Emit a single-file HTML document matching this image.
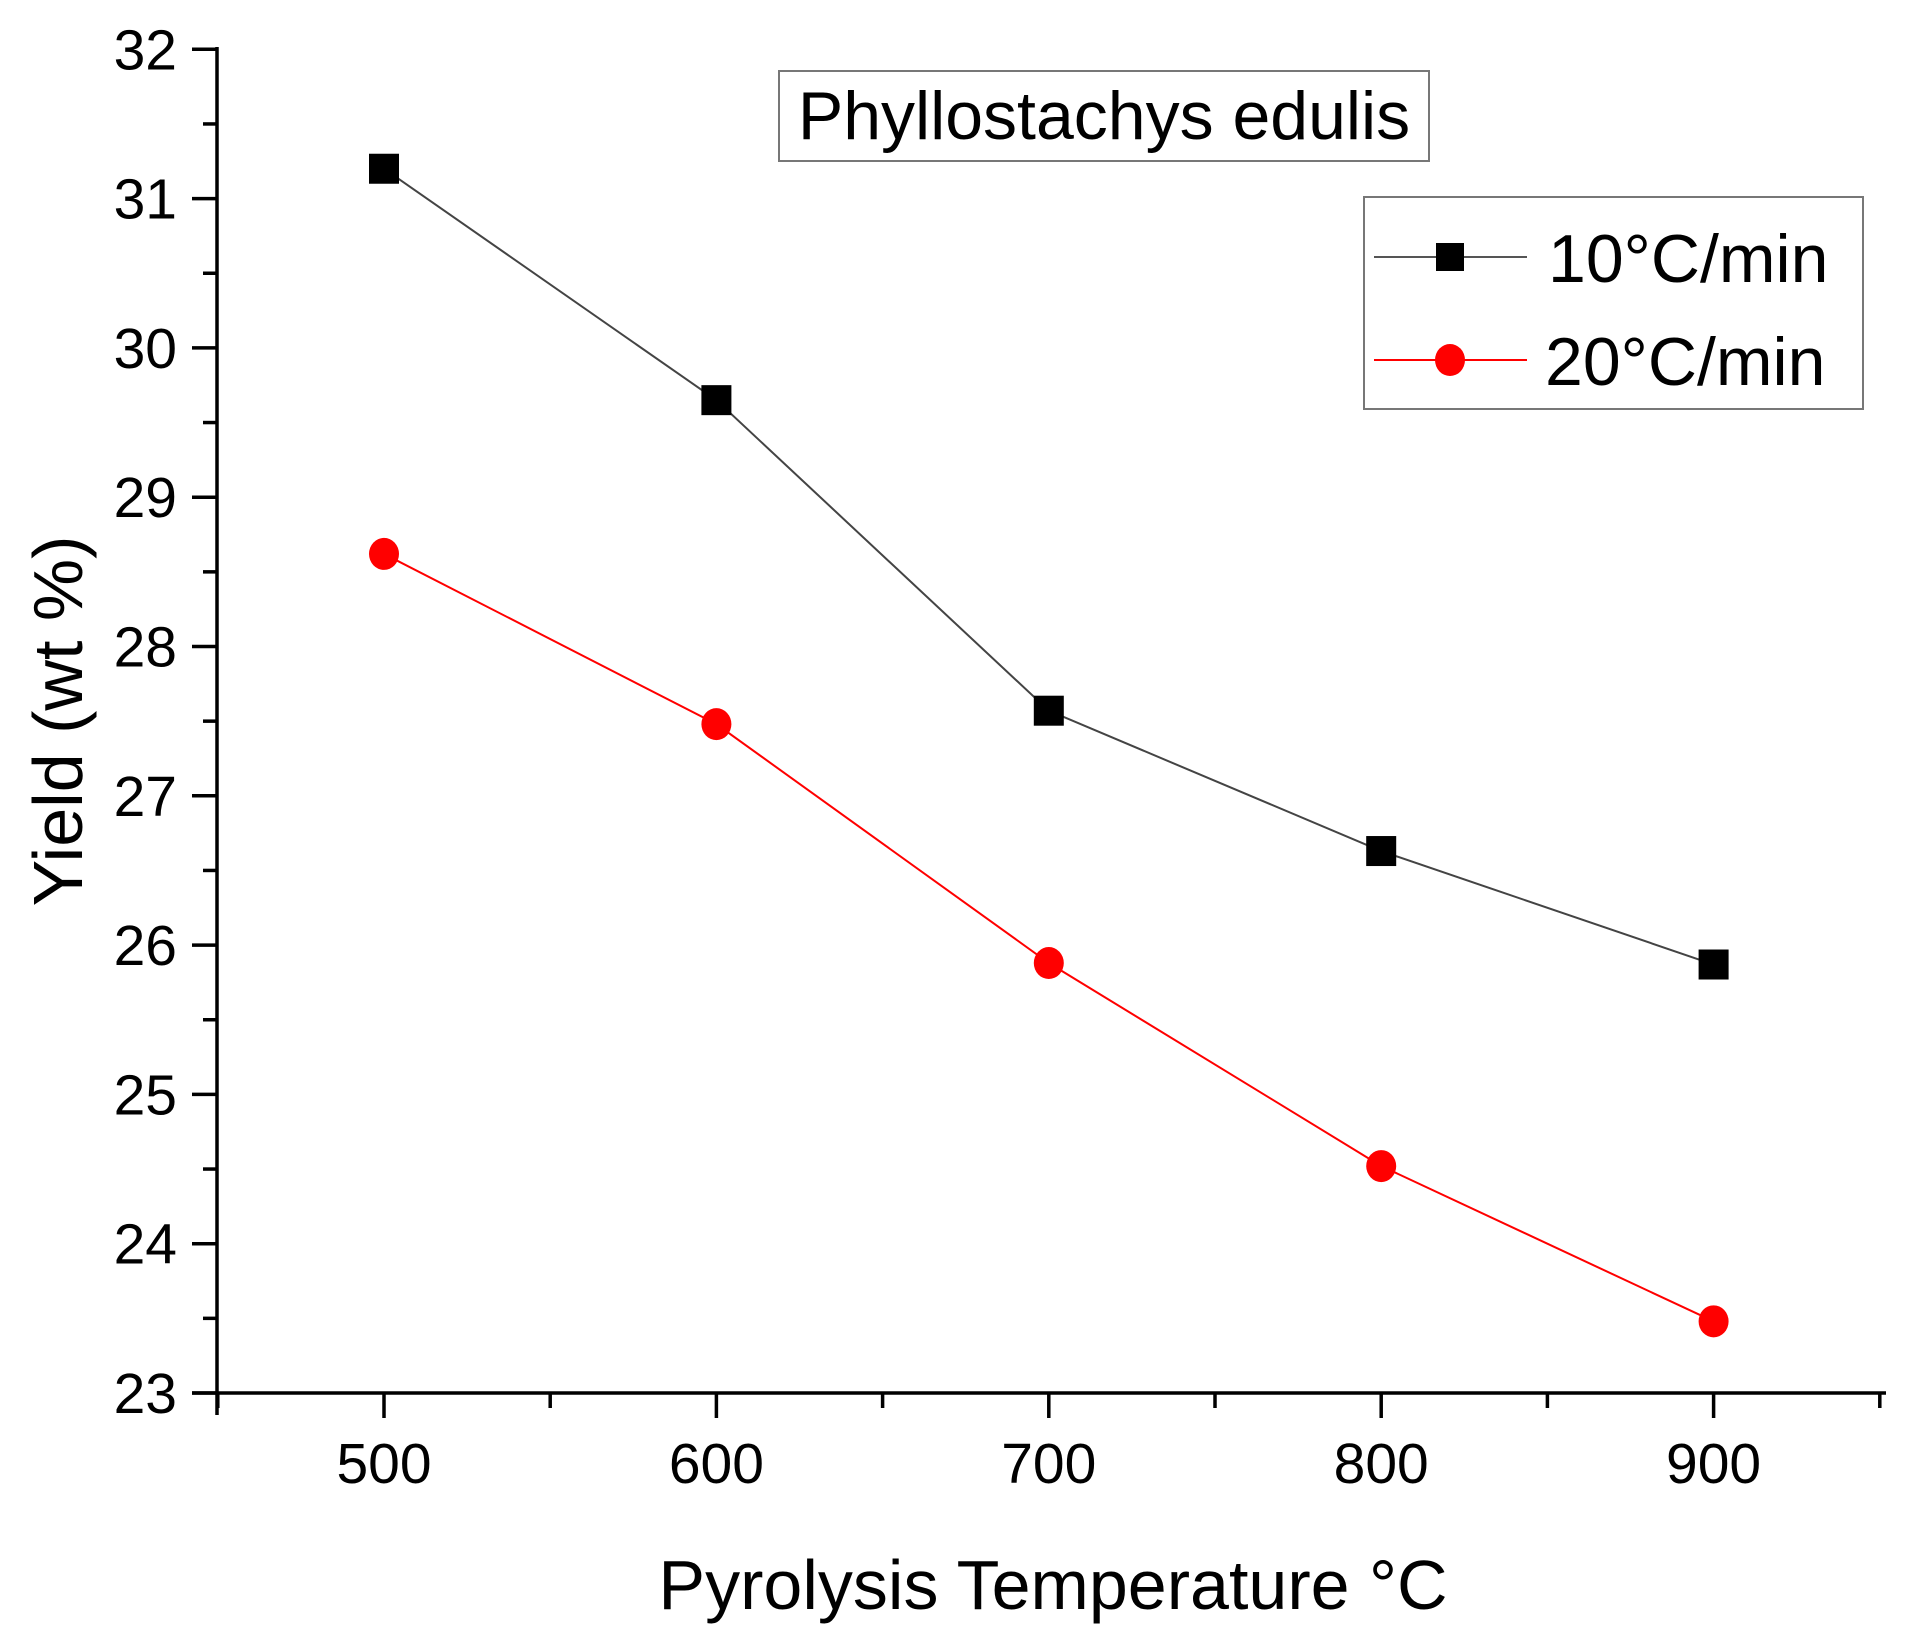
<!DOCTYPE html>
<html><head><meta charset="utf-8"><style>
html,body{margin:0;padding:0;background:#fff;}
svg{display:block;font-family:"Liberation Sans",Arial,sans-serif;}
</style></head><body>
<svg id="chart" width="1906" height="1637" viewBox="0 0 1906 1637">
<g id="axes"></g>
<g id="series"></g>
<g>
<rect x="779" y="71" width="650" height="90" fill="#fff" stroke="#777" stroke-width="2"/>
<text x="1104" y="139" font-size="68" text-anchor="middle" fill="#000">Phyllostachys edulis</text>
</g>
<g>
<rect x="1364" y="197" width="499" height="212" fill="#fff" stroke="#777" stroke-width="2"/>
<g>
<line x1="1374" y1="257" x2="1527" y2="257" stroke="#555" stroke-width="2"/>
<rect x="1436" y="243" width="28" height="28" fill="#000"/>
<text x="1548" y="282" font-size="68" fill="#000">10°C/min</text>
</g>
<g>
<line x1="1374" y1="360" x2="1527" y2="360" stroke="#f00" stroke-width="2"/>
<ellipse cx="1450" cy="360" rx="15" ry="16" fill="#f00"/>
<text x="1545" y="385" font-size="68" fill="#000">20°C/min</text>
</g>
</g>
<text x="1053" y="1609" font-size="70" text-anchor="middle" fill="#000">Pyrolysis Temperature °C</text>
<text transform="translate(82,721) rotate(-90)" font-size="70" text-anchor="middle" fill="#000">Yield (wt %)</text>
</svg>
<script>
const temps = [500, 600, 700, 800, 900];
const yield10 = [31.2, 29.65, 27.57, 26.63, 25.87];
const yield20 = [28.62, 27.48, 25.88, 24.52, 23.48];
const yTicks = [23, 24, 25, 26, 27, 28, 29, 30, 31, 32];
const xTicks = [500, 600, 700, 800, 900];

const NS = "http://www.w3.org/2000/svg";
const X0 = 217, X1 = 1886, Y0 = 1393, Y1 = 49;
function xs(v){ return 384 + (v - 500) * 3.324; }
function ys(v){ return Y0 - (v - 23) * 149.3; }
function mk(tag, attrs, parent){ const e = document.createElementNS(NS, tag); for (const k in attrs) e.setAttribute(k, attrs[k]); parent.appendChild(e); return e; }

const axes = document.getElementById('axes');
let yl = mk('line', {x1:X0, y1:Y1-2, x2:X0, y2:Y0+22, stroke:'#000', 'stroke-width':3.5}, axes);


let xl = mk('line', {x1:X0-25, y1:Y0, x2:X1, y2:Y0, stroke:'#000', 'stroke-width':3.5}, axes);



yTicks.forEach(function(t){
  const y = ys(t);
  mk('line', {x1:X0-25, y1:y, x2:X0, y2:y, stroke:'#000', 'stroke-width':3.5}, axes);
  const lab = mk('text', {x:177, y:y+20, 'font-size':57, 'text-anchor':'end', fill:'#000'}, axes);
  lab.textContent = t;
  
  
  if (t < 32) {
    const ym = ys(t + 0.5);
    mk('line', {x1:X0-14, y1:ym, x2:X0, y2:ym, stroke:'#000', 'stroke-width':3.5}, axes);
  }
});
xTicks.forEach(function(t){
  const x = xs(t);
  mk('line', {x1:x, y1:Y0, x2:x, y2:Y0+25, stroke:'#000', 'stroke-width':3.5}, axes);
  const lab = mk('text', {x:x, y:1483, 'font-size':57, 'text-anchor':'middle', fill:'#000'}, axes);
  lab.textContent = t;
  
  
});
[450, 550, 650, 750, 850, 950].forEach(function(t){
  const x = xs(t);
  mk('line', {x1:x, y1:Y0, x2:x, y2:Y0+15, stroke:'#000', 'stroke-width':3.5}, axes);
});

const series = document.getElementById('series');
function drawSeries(vals, color, lineColor, shape, name){
  const pts = vals.map(function(v, i){ return xs(temps[i]) + ',' + ys(v); }).join(' ');
  const pl = mk('polyline', {points:pts, fill:'none', stroke:lineColor, 'stroke-width':2}, series);
  
  
  vals.forEach(function(v, i){
    let m;
    if (shape === 'square') m = mk('rect', {x:xs(temps[i])-15, y:ys(v)-15, width:30, height:30, fill:color}, series);
    else m = mk('ellipse', {cx:xs(temps[i]), cy:ys(v), rx:15, ry:16, fill:color}, series);
    
    
  });
}
drawSeries(yield10, '#000', '#444', 'square', 'series-10');
drawSeries(yield20, '#f00', '#f00', 'circle', 'series-20');
</script>
</body></html>
